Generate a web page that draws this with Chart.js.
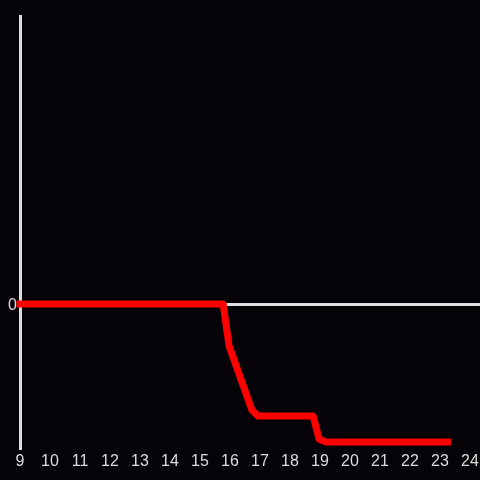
<!DOCTYPE html>
<html><head><meta charset="utf-8">
<script src="https://cdn.jsdelivr.net/npm/chart.js@4/dist/chart.umd.min.js"></script>
<style>html,body{margin:0;padding:0;background:#050308;}#wrap{width:480px;height:480px;}</style>
</head><body><div id="wrap"><canvas id="c" width="480" height="480"></canvas></div>
<script>
const xValues = [9, 15.77, 15.97, 16.73, 16.93, 18.77, 18.97, 19.2, 23.25];
const yValues = [0, 0, -42, -106, -112, -112, -135, -138, -138];
const xTicks = [9,10,11,12,13,14,15,16,17,18,19,20,21,22,23,24];
const yTicks = [0];

const txt = '#dcdcdc';
new Chart(document.getElementById('c'), {
  type: 'line',
  data: { datasets: [{
    data: xValues.map((x,i)=>({x:x, y:yValues[i]})),
    borderColor: '#ff0000', borderWidth: 7, pointRadius: 0, tension: 0,
    borderJoinStyle: 'round', borderCapStyle: 'square', fill: false, clip: false
  }]},
  options: {
    responsive: false, animation: false,
    layout: { padding: { top: 16, right: 0, left: 0, bottom: 0 } },
    plugins: { legend: { display: false }, tooltip: { enabled: false } },
    scales: {
      x: { type: 'linear', min: 9, max: 24.333,
        afterBuildTicks: s => { s.ticks = xTicks.map(v=>({value:v})); },
        afterFit: s => { s.height = 32; s.paddingRight = 0; s.paddingLeft = 0; },
        grid: { display: false, drawTicks: false },
        border: { display: false },
        ticks: { color: txt, font: { size: 16, family: 'Liberation Sans' }, maxRotation: 0, autoSkip: false, padding: 4 }
      },
      y: { type: 'linear', min: -144, max: 288,
        afterBuildTicks: s => { s.ticks = yTicks.map(v=>({value:v})); },
        afterFit: s => { s.width = 20; s.paddingTop = 0; s.paddingBottom = 0; },
        grid: { color: txt, lineWidth: 3, drawTicks: false },
        border: { display: true, color: txt, width: 3 },
        ticks: { color: txt, font: { size: 16, family: 'Liberation Sans' }, padding: 3, labelOffset: 1.5 }
      }
    }
  }
});
</script></body></html>
